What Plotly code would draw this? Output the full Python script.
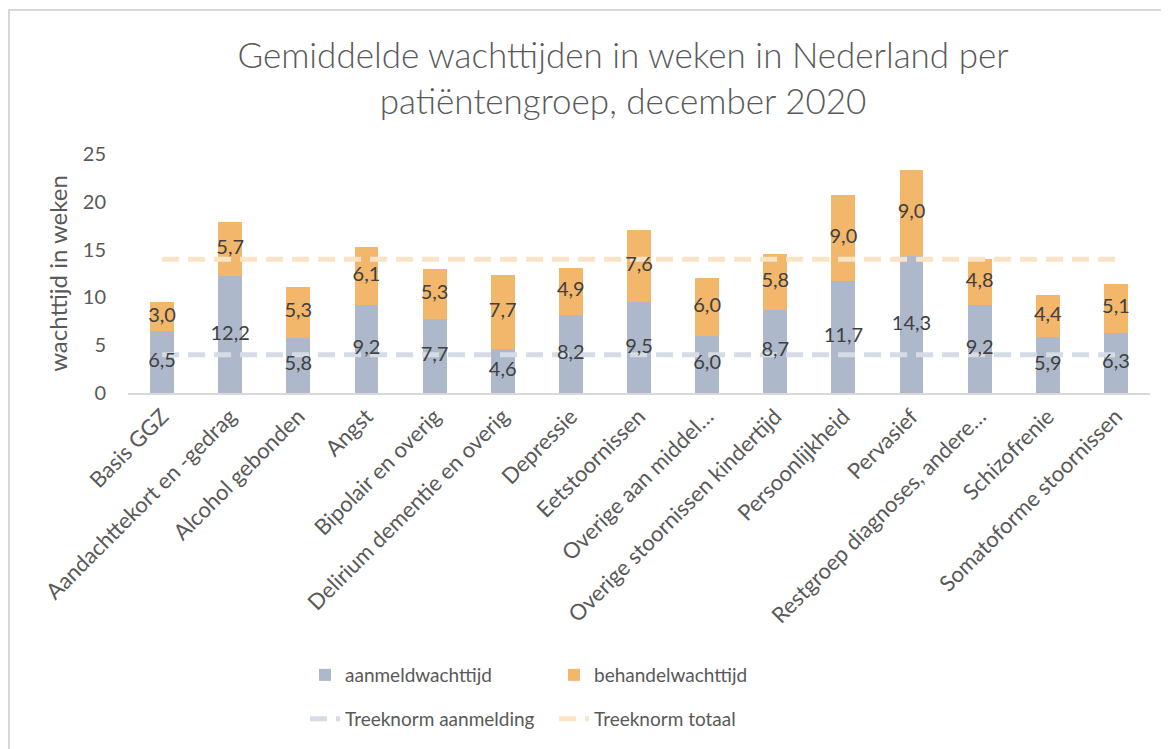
import plotly.graph_objects as go

categories = ["Basis GGZ", "Aandachttekort en -gedrag", "Alcohol gebonden", "Angst",
              "Bipolair en overig", "Delirium dementie en overig", "Depressie",
              "Eetstoornissen", "Overige aan middel…", "Overige stoornissen kindertijd",
              "Persoonlijkheid", "Pervasief", "Restgroep diagnoses, andere…",
              "Schizofrenie", "Somatoforme stoornissen"]
aanmeldwachttijd = [6.5, 12.2, 5.8, 9.2, 7.7, 4.6, 8.2, 9.5, 6.0, 8.7, 11.7, 14.3, 9.2, 5.9, 6.3]
behandelwachttijd = [3.0, 5.7, 5.3, 6.1, 5.3, 7.7, 4.9, 7.6, 6.0, 5.8, 9.0, 9.0, 4.8, 4.4, 5.1]
treeknorm_aanmelding = 4
treeknorm_totaal = 14
y_ticks = [0, 5, 10, 15, 20, 25]

FONT = "Lato"
TXT = "#595959"
LBL = "#404040"

OFF = 8  # page body margin
W, H = 1169 - OFF, 749 - OFF
L, R, T, B = 128 - OFF, 19, 154 - OFF, 356
pw, ph = W - L - R, H - T - B


def px(x):
    return (x - OFF - L) / pw


def py(y):
    return (H - B - (y - OFF)) / ph


def fmt(v):
    return f"{v:.1f}".replace(".", ",")


fig = go.Figure()
fig.add_trace(go.Bar(
    x=categories, y=aanmeldwachttijd, name="aanmeldwachttijd",
    marker=dict(color="#ADB9CA", line=dict(width=0)), legend="legend"))
fig.add_trace(go.Bar(
    x=categories, y=behandelwachttijd, name="behandelwachttijd",
    marker=dict(color="#F2B76A", line=dict(width=0)), legend="legend"))
fig.add_trace(go.Scatter(
    x=categories, y=[treeknorm_aanmelding] * len(categories), mode="lines",
    name="Treeknorm aanmelding",
    line=dict(color="#D6DCE5", width=5, dash="17px,9px"), legend="legend2"))
fig.add_trace(go.Scatter(
    x=categories, y=[treeknorm_totaal] * len(categories), mode="lines",
    name="Treeknorm totaal",
    line=dict(color="#FBE3C6", width=5, dash="17px,9px"), legend="legend2"))

# data labels centred in each stacked segment, drawn on top of the lines
fig.add_trace(go.Scatter(
    x=categories, y=[a / 2 for a in aanmeldwachttijd], mode="text",
    text=[fmt(a) for a in aanmeldwachttijd], textposition="middle center",
    textfont=dict(family=FONT, size=20, color=LBL), showlegend=False, hoverinfo="skip"))
fig.add_trace(go.Scatter(
    x=categories, y=[a + b / 2 for a, b in zip(aanmeldwachttijd, behandelwachttijd)],
    mode="text", text=[fmt(b) for b in behandelwachttijd], textposition="middle center",
    textfont=dict(family=FONT, size=20, color=LBL), showlegend=False, hoverinfo="skip"))

fig.update_layout(
    width=W, height=H,
    margin=dict(l=L, r=R, t=T, b=B, autoexpand=False),
    paper_bgcolor="white", plot_bgcolor="white",
    barmode="stack", bargap=0.65,
    font=dict(family=FONT, color=TXT),
    title=dict(text="Gemiddelde wachttijden in weken in Nederland per<br>patiëntengroep, december 2020",
               font=dict(family=FONT, size=35, color=TXT, weight=300),
               x=px(623), xref="paper", xanchor="center",
               y=1 - (68 - OFF) / H, yref="container", yanchor="middle"),
    xaxis=dict(type="category", range=[-0.5, len(categories) - 0.5],
               tickangle=-45, tickfont=dict(family=FONT, size=22, color=TXT),
               showline=True, linecolor="#D9D9D9", linewidth=2,
               showgrid=False, ticks="", zeroline=False),
    yaxis=dict(range=[0, 25], tickvals=y_ticks, showgrid=False, zeroline=False,
               showline=False, ticks="", ticklabelstandoff=21,
               tickfont=dict(family=FONT, size=20, color=TXT),
               title=dict(text="wachttijd in weken", font=dict(family=FONT, size=24, color=TXT),
                          standoff=8)),
    legend=dict(orientation="h", x=px(305), y=py(675), xanchor="left", yanchor="middle",
                font=dict(family=FONT, size=19, color=TXT), entrywidth=204,
                entrywidthmode="pixels", traceorder="normal", bgcolor="rgba(0,0,0,0)"),
    legend2=dict(orientation="h", x=px(305), y=py(719), xanchor="left", yanchor="middle",
                 font=dict(family=FONT, size=19, color=TXT), entrywidth=204,
                 entrywidthmode="pixels", traceorder="normal", bgcolor="rgba(0,0,0,0)"),
    shapes=[dict(type="rect", xref="paper", yref="paper",
                 x0=px(9), x1=px(1169 + 20), y0=py(749 + 20), y1=py(10),
                 line=dict(color="#D9D9D9", width=2), fillcolor="rgba(0,0,0,0)", layer="below")],
)

fig.write_html("out.html")
